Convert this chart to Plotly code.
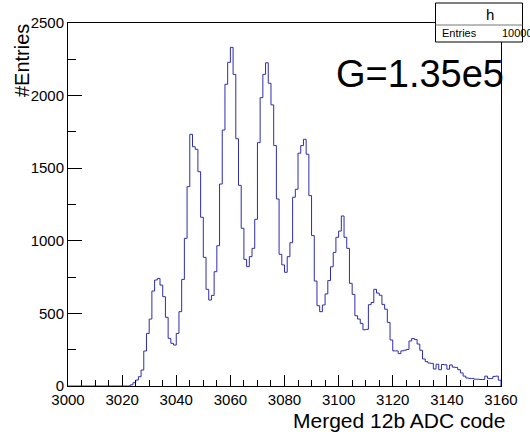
import plotly.graph_objects as go

# Histogram "h": 160 bins of width 1 from 3000 to 3160 (merged 12b ADC code)
bin_low = 3000
bin_width = 1
counts = [
    0, 0, 0, 0, 0, 0, 0, 0, 0, 0,
    0, 0, 0, 0, 0, 0, 0, 0, 0, 0,
    0, 0, 0, 8, 23, 41, 64, 110, 241, 362,
    461, 654, 730, 741, 695, 615, 473, 328, 294, 282,
    362, 512, 734, 1017, 1373, 1733, 1648, 1630, 1476, 1162,
    886, 666, 592, 624, 787, 966, 1391, 1763, 2078, 2229,
    2332, 2146, 1703, 1382, 1086, 872, 822, 891, 948, 1148,
    1676, 1986, 2146, 2226, 2085, 1936, 1656, 1288, 907, 834,
    783, 891, 987, 1300, 1355, 1603, 1656, 1699, 1596, 1311,
    1036, 723, 553, 512, 558, 634, 726, 821, 920, 1024,
    1067, 1171, 1024, 948, 707, 631, 484, 461, 431, 387,
    390, 560, 575, 666, 640, 625, 562, 529, 438, 317,
    242, 242, 223, 242, 246, 252, 310, 327, 320, 289,
    246, 186, 168, 158, 156, 117, 150, 112, 148, 146,
    116, 145, 130, 128, 112, 90, 68, 55, 53, 52,
    47, 47, 45, 45, 68, 52, 52, 66, 68, 40,
]

x_title = "Merged 12b ADC code"
y_title = "#Entries"
gain_label = "G=1.35e5"
hist_name = "h"
entries_label = "Entries"
entries_value = "100000"

x_range = [3000, 3160]
y_range = [0, 2500]

font_family = "Liberation Sans, Arial, Helvetica, sans-serif"
line_color = "#2d2daf"

W, H = 530, 432
m_l, m_r, m_t, m_b = 68, 19, 23, 46
plot_w = W - m_l - m_r
plot_h = H - m_t - m_b


def px_to_paper_x(px):
    return (px - m_l) / plot_w


def px_to_paper_y(py):
    return (H - m_b - py) / plot_h


# step outline: bin edges with a closing drop at the upper edge
edges = [bin_low + i * bin_width for i in range(len(counts) + 1)]
step_x = edges + [edges[-1]]
step_y = counts + [counts[-1], 0]

fig = go.Figure()
fig.add_trace(go.Scatter(
    x=step_x, y=step_y, mode="lines",
    line=dict(shape="hv", color=line_color, width=1),
    hoverinfo="skip", showlegend=False,
))

axis_common = dict(
    showgrid=False, zeroline=False,
    showline=True, linecolor="black", linewidth=1, mirror=True,
    ticks="inside", tickcolor="black", tickwidth=1,
    tickfont=dict(family=font_family, size=15, color="black"),
)

fig.update_xaxes(
    range=x_range, dtick=20, tick0=3000, ticklen=11,
    minor=dict(dtick=5, ticks="inside", ticklen=6, tickcolor="black"),
    **axis_common,
)
fig.update_yaxes(
    range=y_range, dtick=500, tick0=0, ticklen=14,
    minor=dict(dtick=250, ticks="inside", ticklen=8, tickcolor="black"),
    **axis_common,
)

annotations = [
    dict(text=x_title, xref="paper", yref="paper", x=1, y=px_to_paper_y(420),
         xanchor="right", yanchor="middle", xshift=6, showarrow=False,
         font=dict(family=font_family, size=21, color="black")),
    dict(text=y_title, xref="paper", yref="paper", x=px_to_paper_x(21),
         y=px_to_paper_y(61), xanchor="center", yanchor="middle",
         textangle=-90, showarrow=False,
         font=dict(family=font_family, size=20, color="black")),
    dict(text=gain_label, xref="paper", yref="paper", x=px_to_paper_x(340),
         y=px_to_paper_y(74), xanchor="left", yanchor="middle", showarrow=False,
         font=dict(family=font_family, size=38, color="black")),
    dict(text=hist_name, xref="paper", yref="paper", x=px_to_paper_x(500),
         y=px_to_paper_y(14), xanchor="center", yanchor="middle", showarrow=False,
         font=dict(family=font_family, size=15, color="black")),
    dict(text=entries_label, xref="paper", yref="paper", x=px_to_paper_x(449),
         y=px_to_paper_y(33), xanchor="left", yanchor="middle", showarrow=False,
         font=dict(family=font_family, size=11, color="black")),
    dict(text=entries_value, xref="paper", yref="paper", x=px_to_paper_x(510),
         y=px_to_paper_y(33), xanchor="left", yanchor="middle", showarrow=False,
         font=dict(family=font_family, size=11, color="black")),
]

# statistics box in the upper right corner
shapes = [
    dict(type="rect", xref="paper", yref="paper", layer="above",
         x0=px_to_paper_x(444), x1=px_to_paper_x(533),
         y0=px_to_paper_y(42), y1=px_to_paper_y(3),
         line=dict(color="black", width=1), fillcolor="white"),
    dict(type="line", xref="paper", yref="paper", layer="above",
         x0=px_to_paper_x(444), x1=px_to_paper_x(533),
         y0=px_to_paper_y(25), y1=px_to_paper_y(25),
         line=dict(color="#777777", width=1)),
]

fig.update_layout(
    width=W, height=H,
    margin=dict(l=m_l, r=m_r, t=m_t, b=m_b, pad=0),
    paper_bgcolor="white", plot_bgcolor="white",
    annotations=annotations, shapes=shapes,
    font=dict(family=font_family, color="black"),
)

fig.write_html("out.html")
